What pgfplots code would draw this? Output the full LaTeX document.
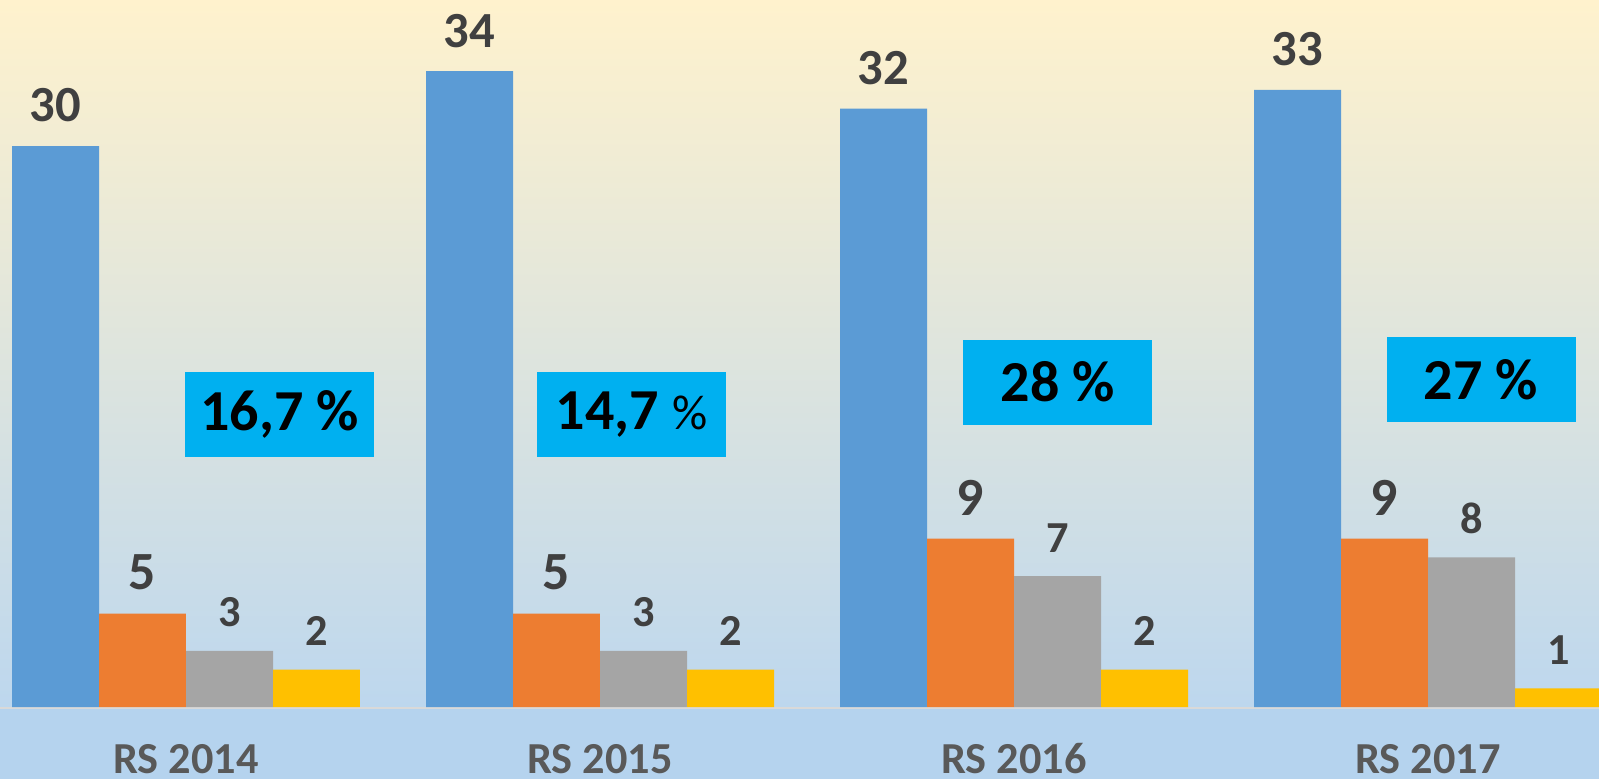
\documentclass[border=0pt]{standalone}
\usepackage{fontspec}
\setmainfont{Carlito}
\usepackage{pgfplots}
\pgfplotsset{compat=1.18}

\definecolor{cBlue}{HTML}{5B9BD5}
\definecolor{cOrange}{HTML}{ED7D31}
\definecolor{cGray}{HTML}{A5A5A5}
\definecolor{cYellow}{HTML}{FFC000}
\definecolor{cCyan}{HTML}{00B0F0}
\definecolor{bgTop}{HTML}{FFF2CD}
\definecolor{bgBot}{HTML}{BDD7EE}
\definecolor{band}{HTML}{B5D3EE}
\definecolor{baseLine}{HTML}{D9D9D9}
\definecolor{valText}{HTML}{404040}
\definecolor{catText}{HTML}{595959}

\begin{document}
\begin{tikzpicture}
\useasboundingbox (0,0) rectangle (15.99,7.79);
\clip (0,0) rectangle (15.99,7.79);
% background: gradient plot area, flat band under the baseline
\shade[top color=bgTop, bottom color=bgBot] (0,0.72) rectangle (15.99,7.79);
\fill[band] (0,0) rectangle (15.99,0.72);
\draw[baseLine, line width=0.02cm] (0,0.715) -- (15.99,0.715);

\begin{axis}[
  at={(0,0.72cm)}, anchor=south west,
  scale only axis, width=15.99cm, height=7.07cm,
  xmin=-0.4493, xmax=3.413, ymin=0, ymax=37.81,
  ybar, bar width=0.2101,
  axis line style={draw=none}, major tick length=0pt,
  ytick=\empty,
  xtick={0,1,2,3},
  xticklabels={RS 2014,RS 2015,RS 2016,RS 2017},
  xticklabel style={anchor=base, inner sep=0pt, yshift=-0.66cm, text=catText,
    font=\fontsize{12.6}{14}\selectfont\bfseries},
  /pgf/number format/assume math mode=true,
  nodes near coords,
  every node near coord/.append style={anchor=south, inner sep=0pt,
    yshift=0.23cm, text=valText},
]
\addplot[fill=cBlue, draw=none, bar shift=-0.3152,
  every node near coord/.append style={font=\fontsize{14.4}{16}\selectfont\bfseries}]
  coordinates {(0,30) (1,34) (2,32) (3,33)};
\addplot[fill=cOrange, draw=none, bar shift=-0.1051,
  every node near coord/.append style={font=\fontsize{15.3}{17}\selectfont\bfseries}]
  coordinates {(0,5) (1,5) (2,9) (3,9)};
\addplot[fill=cGray, draw=none, bar shift=0.1051,
  every node near coord/.append style={font=\fontsize{12.6}{14}\selectfont\bfseries}]
  coordinates {(0,3) (1,3) (2,7) (3,8)};
\addplot[fill=cYellow, draw=none, bar shift=0.3152,
  every node near coord/.append style={font=\fontsize{12.6}{14}\selectfont\bfseries}]
  coordinates {(0,2) (1,2) (2,2) (3,1)};

% percentage boxes
\tikzset{pbox/.style={fill=cCyan, text=black, minimum width=1.89cm,
  minimum height=0.85cm, inner sep=0pt, font=\fontsize{16.5}{18}\selectfont\bfseries}}
\node[pbox] at (axis cs:0.2258,15.64) {16,7 \%};
\node[pbox] at (axis cs:1.076,15.64) {14,7 {\fontsize{14}{16}\selectfont\mdseries\%}};
\node[pbox] at (axis cs:2.106,17.38) {28 \%};
\node[pbox] at (axis cs:3.128,17.52) {27 \%};
\end{axis}
\end{tikzpicture}
\end{document}
